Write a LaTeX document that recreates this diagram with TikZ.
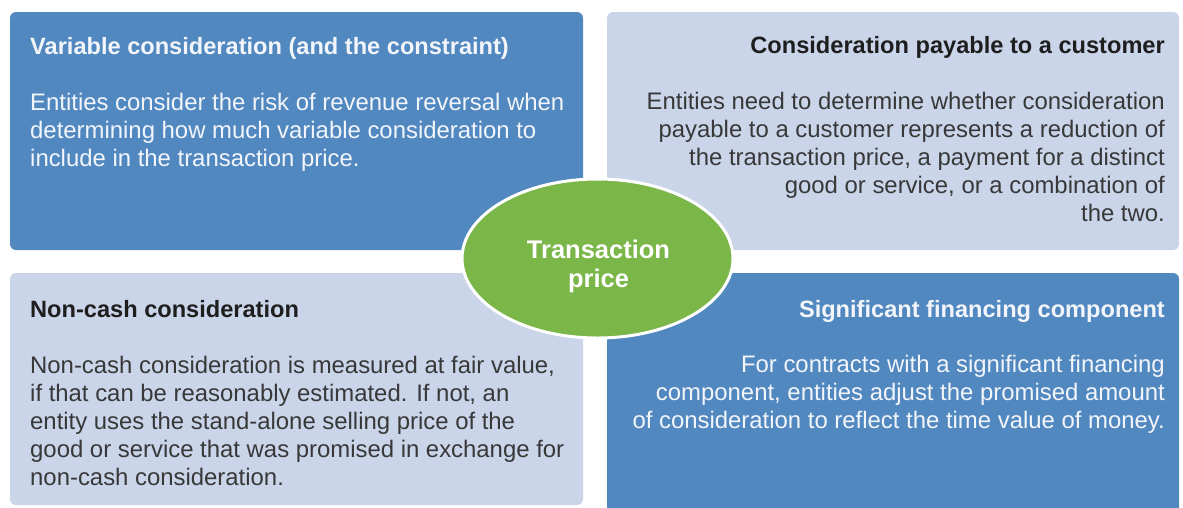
\documentclass[tikz,border=0pt]{standalone}
\usepackage{fontspec}
\setmainfont{Liberation Sans}
\usetikzlibrary{shapes.geometric}
\definecolor{darkblue}{HTML}{5288C0}
\definecolor{lightblue}{HTML}{CAD5EA}
\definecolor{tpgreen}{HTML}{7AB648}
\definecolor{offwhite}{HTML}{F2F5FA}
\definecolor{titledark}{HTML}{1E1E1E}
\definecolor{bodydark}{HTML}{383838}
\tikzset{
  panel/.style={rounded corners=6pt, draw=none},
  darkpanel/.style={panel, fill=darkblue},
  lightpanel/.style={panel, fill=lightblue},
  ttl/.style={inner sep=0pt, font=\fontsize{23.6}{28}\selectfont\bfseries},
  bodytxt/.style={inner sep=0pt, font=\fontsize{23.9}{28}\selectfont},
  onDark/.style={text=offwhite},
  onLight/.style={text=bodydark},
}
\begin{document}
\begin{tikzpicture}[x=1pt,y=-1pt]
\useasboundingbox (0,0) rectangle (1183,507);
\clip (0,0) rectangle (1183,507);
\fill[white] (0,0) rectangle (1183,507);
% panels
\path[darkpanel]  (10,12)   rectangle (583,250);
\path[lightpanel] (607,12)  rectangle (1179,250);
\path[lightpanel] (10,273)  rectangle (583,505);
\path[darkpanel]  (607,273) rectangle (1179,520);
% top-left
\node[ttl, onDark, anchor=base west] (t1) at (30,54) {Variable consideration (and the constraint)};
\node[bodytxt, onDark, anchor=base west] (b1) at (30,110)
 {\begin{tabular}[t]{@{}l@{}}Entities consider the risk of revenue reversal when\\determining how much variable consideration to\\include in the transaction price.\end{tabular}};
% top-right
\node[ttl, text=titledark, anchor=base east] (t2) at (1165,53) {Consideration payable to a customer};
\node[bodytxt, onLight, anchor=base east] (b2) at (1165,109)
 {\begin{tabular}[t]{@{}r@{}}Entities need to determine whether consideration\\payable to a customer represents a reduction of\\the transaction price, a payment for a distinct\\good or service, or a combination of\\the two.\end{tabular}};
% bottom-left
\node[ttl, text=titledark, anchor=base west] (t3) at (30,317) {Non-cash consideration};
\node[bodytxt, onLight, anchor=base west] (b3) at (30,373)
 {\begin{tabular}[t]{@{}l@{}}Non-cash consideration is measured at fair value,\\if that can be reasonably estimated. If not, an\\entity uses the stand-alone selling price of the\\good or service that was promised in exchange for\\non-cash consideration.\end{tabular}};
% bottom-right
\node[ttl, onDark, anchor=base east] (t4) at (1165,317) {Significant financing component};
\node[bodytxt, onDark, anchor=base east] (b4) at (1165,372)
 {\begin{tabular}[t]{@{}r@{}}For contracts with a significant financing\\component, entities adjust the promised amount\\of consideration to reflect the time value of money.\end{tabular}};
% centre ellipse
\node[ellipse, fill=tpgreen, draw=white, line width=3pt, minimum width=271pt, minimum height=159pt, inner sep=0pt] (tp) at (597.5,258.5) {};
\node[inner sep=0pt, anchor=base, text=white, font=\fontsize{25.5}{29}\selectfont\bfseries] (tpt) at (598.5,258)
 {\begin{tabular}[t]{@{}c@{}}Transaction\\price\end{tabular}};
\end{tikzpicture}
\end{document}
